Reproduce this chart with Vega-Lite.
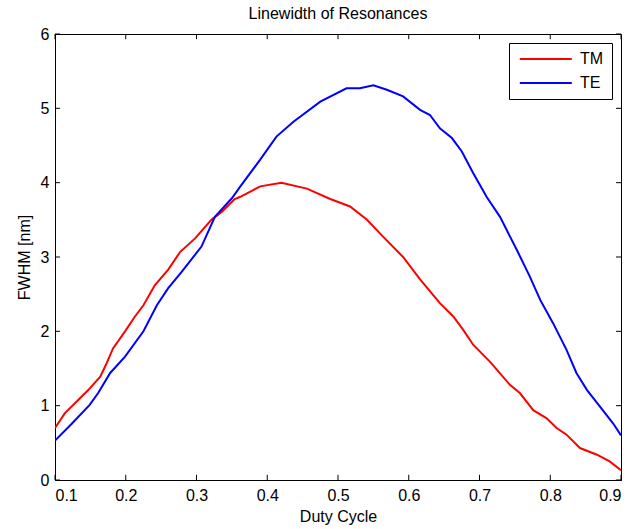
{
  "$schema": "https://vega.github.io/schema/vega-lite/v6.json",
  "width": 566,
  "height": 446,
  "autosize": {"type": "none"},
  "padding": {"left": 55, "top": 34, "right": 11, "bottom": 49},
  "background": "white",
  "title": {"text": "Linewidth of Resonances", "fontSize": 16, "fontWeight": "normal", "font": "Liberation Sans", "color": "black", "offset": 4, "frame": "group"},
  "config": {
    "font": "Liberation Sans",
    "view": {"stroke": "black", "strokeWidth": 1},
    "axis": {
      "grid": false,
      "ticks": false,
      "domainColor": "black",
      "labelColor": "black",
      "titleColor": "black",
      "labelFontSize": 16,
      "titleFontSize": 16,
      "titleFontWeight": "normal",
      "labelFont": "Liberation Sans",
      "titleFont": "Liberation Sans"
    },
    "legend": {
      "strokeColor": "black",
      "fillColor": "white",
      "padding": 8,
      "labelFontSize": 16,
      "labelFont": "Liberation Sans",
      "labelColor": "black",
      "symbolType": "M-1,0H9",
      "symbolStrokeWidth": 2,
      "symbolSize": 108,
      "rowPadding": 8,
      "labelOffset": 47,
      "cornerRadius": 0
    }
  },
  "datasets": {
    "curves": [
      {"x": 0.1, "y": 0.70, "s": "TM"},
      {"x": 0.114, "y": 0.90, "s": "TM"},
      {"x": 0.13, "y": 1.05, "s": "TM"},
      {"x": 0.147, "y": 1.21, "s": "TM"},
      {"x": 0.164, "y": 1.39, "s": "TM"},
      {"x": 0.172, "y": 1.55, "s": "TM"},
      {"x": 0.182, "y": 1.77, "s": "TM"},
      {"x": 0.199, "y": 2.00, "s": "TM"},
      {"x": 0.213, "y": 2.20, "s": "TM"},
      {"x": 0.225, "y": 2.35, "s": "TM"},
      {"x": 0.241, "y": 2.62, "s": "TM"},
      {"x": 0.26, "y": 2.83, "s": "TM"},
      {"x": 0.277, "y": 3.07, "s": "TM"},
      {"x": 0.298, "y": 3.25, "s": "TM"},
      {"x": 0.321, "y": 3.50, "s": "TM"},
      {"x": 0.336, "y": 3.61, "s": "TM"},
      {"x": 0.354, "y": 3.78, "s": "TM"},
      {"x": 0.362, "y": 3.81, "s": "TM"},
      {"x": 0.39, "y": 3.95, "s": "TM"},
      {"x": 0.42, "y": 4.00, "s": "TM"},
      {"x": 0.456, "y": 3.92, "s": "TM"},
      {"x": 0.489, "y": 3.78, "s": "TM"},
      {"x": 0.517, "y": 3.68, "s": "TM"},
      {"x": 0.541, "y": 3.50, "s": "TM"},
      {"x": 0.564, "y": 3.27, "s": "TM"},
      {"x": 0.592, "y": 3.00, "s": "TM"},
      {"x": 0.616, "y": 2.70, "s": "TM"},
      {"x": 0.644, "y": 2.38, "s": "TM"},
      {"x": 0.663, "y": 2.20, "s": "TM"},
      {"x": 0.677, "y": 2.02, "s": "TM"},
      {"x": 0.691, "y": 1.82, "s": "TM"},
      {"x": 0.715, "y": 1.59, "s": "TM"},
      {"x": 0.743, "y": 1.28, "s": "TM"},
      {"x": 0.757, "y": 1.17, "s": "TM"},
      {"x": 0.776, "y": 0.94, "s": "TM"},
      {"x": 0.795, "y": 0.83, "s": "TM"},
      {"x": 0.809, "y": 0.70, "s": "TM"},
      {"x": 0.823, "y": 0.61, "s": "TM"},
      {"x": 0.842, "y": 0.43, "s": "TM"},
      {"x": 0.866, "y": 0.34, "s": "TM"},
      {"x": 0.884, "y": 0.25, "s": "TM"},
      {"x": 0.9, "y": 0.13, "s": "TM"},
      {"x": 0.1, "y": 0.53, "s": "TE"},
      {"x": 0.124, "y": 0.76, "s": "TE"},
      {"x": 0.149, "y": 1.01, "s": "TE"},
      {"x": 0.161, "y": 1.17, "s": "TE"},
      {"x": 0.178, "y": 1.44, "s": "TE"},
      {"x": 0.199, "y": 1.66, "s": "TE"},
      {"x": 0.225, "y": 2.00, "s": "TE"},
      {"x": 0.244, "y": 2.35, "s": "TE"},
      {"x": 0.26, "y": 2.58, "s": "TE"},
      {"x": 0.279, "y": 2.80, "s": "TE"},
      {"x": 0.307, "y": 3.14, "s": "TE"},
      {"x": 0.326, "y": 3.54, "s": "TE"},
      {"x": 0.35, "y": 3.79, "s": "TE"},
      {"x": 0.362, "y": 3.95, "s": "TE"},
      {"x": 0.39, "y": 4.31, "s": "TE"},
      {"x": 0.413, "y": 4.62, "s": "TE"},
      {"x": 0.437, "y": 4.82, "s": "TE"},
      {"x": 0.475, "y": 5.09, "s": "TE"},
      {"x": 0.512, "y": 5.27, "s": "TE"},
      {"x": 0.531, "y": 5.27, "s": "TE"},
      {"x": 0.55, "y": 5.31, "s": "TE"},
      {"x": 0.569, "y": 5.25, "s": "TE"},
      {"x": 0.592, "y": 5.16, "s": "TE"},
      {"x": 0.616, "y": 4.98, "s": "TE"},
      {"x": 0.63, "y": 4.91, "s": "TE"},
      {"x": 0.644, "y": 4.73, "s": "TE"},
      {"x": 0.661, "y": 4.60, "s": "TE"},
      {"x": 0.675, "y": 4.42, "s": "TE"},
      {"x": 0.691, "y": 4.13, "s": "TE"},
      {"x": 0.71, "y": 3.81, "s": "TE"},
      {"x": 0.729, "y": 3.54, "s": "TE"},
      {"x": 0.753, "y": 3.09, "s": "TE"},
      {"x": 0.771, "y": 2.74, "s": "TE"},
      {"x": 0.786, "y": 2.42, "s": "TE"},
      {"x": 0.804, "y": 2.11, "s": "TE"},
      {"x": 0.823, "y": 1.75, "s": "TE"},
      {"x": 0.837, "y": 1.44, "s": "TE"},
      {"x": 0.852, "y": 1.21, "s": "TE"},
      {"x": 0.87, "y": 0.99, "s": "TE"},
      {"x": 0.889, "y": 0.76, "s": "TE"},
      {"x": 0.9, "y": 0.60, "s": "TE"}
    ],
    "xticks": [{"x": 0.1}, {"x": 0.2}, {"x": 0.3}, {"x": 0.4}, {"x": 0.5}, {"x": 0.6}, {"x": 0.7}, {"x": 0.8}, {"x": 0.9}],
    "yticks": [{"y": 0}, {"y": 1}, {"y": 2}, {"y": 3}, {"y": 4}, {"y": 5}, {"y": 6}]
  },
  "layer": [
    {
      "data": {"name": "curves"},
      "mark": {"type": "line", "strokeWidth": 2, "clip": true},
      "encoding": {
        "x": {"field": "x", "type": "quantitative", "scale": {"domain": [0.1, 0.9], "nice": false, "zero": false},
              "axis": {"title": "Duty Cycle", "values": [0.1,0.2,0.3,0.4,0.5,0.6,0.7,0.8,0.9], "format": ".1f", "labelPadding": 7, "titlePadding": 5}},
        "y": {"field": "y", "type": "quantitative", "scale": {"domain": [0, 6], "nice": false},
              "axis": {"title": "FWHM [nm]", "values": [0,1,2,3,4,5,6], "format": "d", "labelPadding": 6, "titlePadding": 8}},
        "color": {"field": "s", "type": "nominal", "scale": {"domain": ["TM", "TE"], "range": ["#ff0000", "#0000ff"]},
                  "legend": {"title": null, "orient": "top-right", "offset": 9}}
      }
    },
    {
      "data": {"name": "xticks"},
      "mark": {"type": "rule", "color": "black", "strokeWidth": 1, "opacity": 1},
      "encoding": {
        "x": {"field": "x", "type": "quantitative"},
        "y": {"datum": 0, "type": "quantitative"},
        "y2": {"datum": 0.07}
      }
    },
    {
      "data": {"name": "xticks"},
      "mark": {"type": "rule", "color": "black", "strokeWidth": 1, "opacity": 1},
      "encoding": {
        "x": {"field": "x", "type": "quantitative"},
        "y": {"datum": 6, "type": "quantitative"},
        "y2": {"datum": 5.93}
      }
    },
    {
      "data": {"name": "yticks"},
      "mark": {"type": "rule", "color": "black", "strokeWidth": 1, "opacity": 1},
      "encoding": {
        "y": {"field": "y", "type": "quantitative"},
        "x": {"datum": 0.1, "type": "quantitative"},
        "x2": {"datum": 0.107}
      }
    },
    {
      "data": {"name": "yticks"},
      "mark": {"type": "rule", "color": "black", "strokeWidth": 1, "opacity": 1},
      "encoding": {
        "y": {"field": "y", "type": "quantitative"},
        "x": {"datum": 0.9, "type": "quantitative"},
        "x2": {"datum": 0.893}
      }
    }
  ]
}
